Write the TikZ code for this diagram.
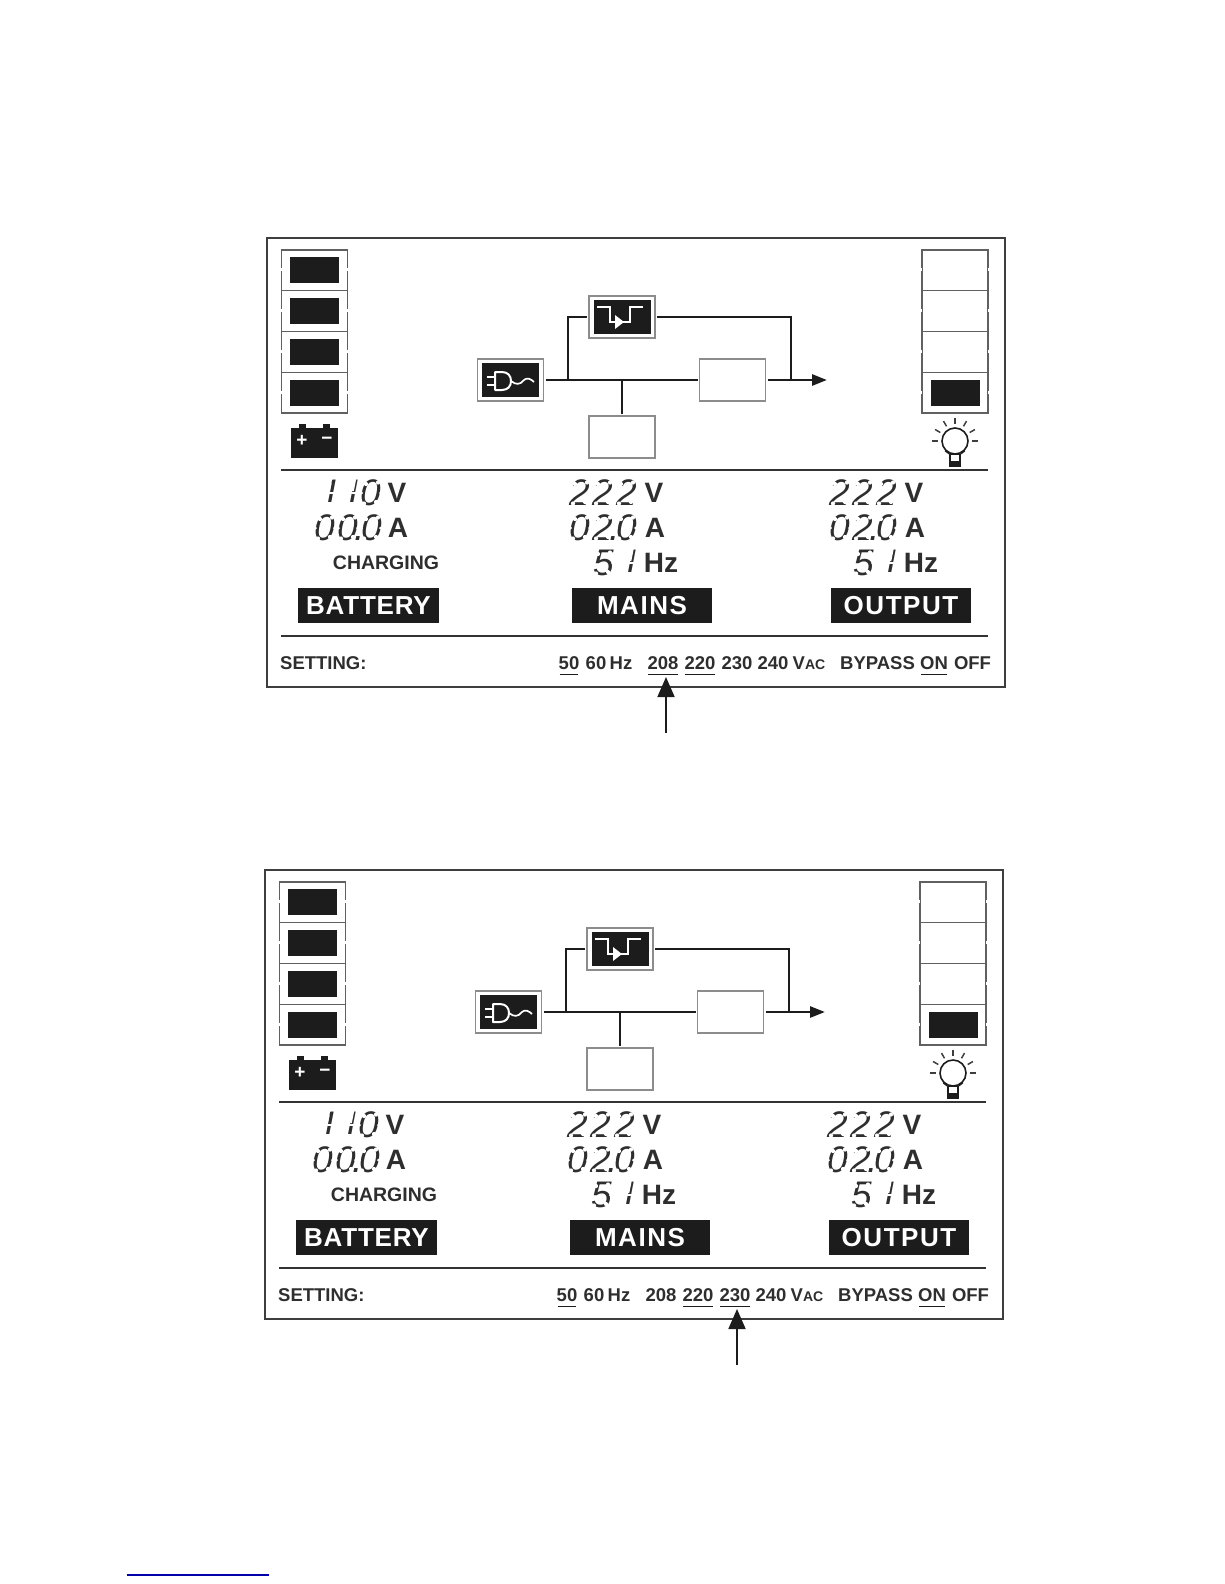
\documentclass[tikz,border=0pt]{standalone}
\usepackage{fontspec}
\setmainfont{Liberation Sans}
\newfontfamily\lcdfont[LetterSpace=8.3]{Liberation Sans}
\newfontfamily\tagfont[LetterSpace=3]{Liberation Sans}
\newfontfamily\widefont[LetterSpace=6]{Liberation Sans}
\usepackage{tikz}
\usetikzlibrary{arrows.meta,positioning,calc}
\definecolor{ink}{HTML}{1C1C1C}
\definecolor{txt}{HTML}{2E2E2E}

\begin{document}
\begin{tikzpicture}[
  x=1pt, y=-1pt,
  frame/.style = {draw=ink!85, line width=1.6pt},
  rule/.style  = {draw=ink!90, line width=1.3pt},
  cell/.style  = {draw=ink!70, line width=1.1pt, minimum width=66pt, minimum height=40.75pt,
                  inner sep=0pt},
  blk/.style   = {fill=ink, minimum width=49pt, minimum height=26pt, inner sep=0pt},
  box/.style   = {draw=black!45, line width=1.5pt, fill=#1, minimum width=66pt,
                  minimum height=42pt, inner sep=0pt, outer sep=2pt},
  box/.default = white,
  core/.style  = {fill=ink, minimum width=57pt, minimum height=34pt, inner sep=0pt},
  wire/.style  = {draw=ink, line width=2.7pt},
  arr/.style   = {-{Stealth[inset=0pt,length=15pt,width=11pt]}},
  lcd/.style   = {text=txt, inner sep=0pt, font=\fontsize{37}{37}\lcdfont\itshape},
  unit/.style  = {text=txt, inner sep=0pt, font=\fontsize{28}{28}\selectfont\bfseries},
  tag/.style   = {fill=ink, text=white, minimum height=35pt, inner sep=0pt,
                  font=\fontsize{26}{26}\selectfont\bfseries},
  set/.style   = {text=txt, inner sep=0pt, text height=14pt, text depth=0pt,
                  font=\fontsize{18.5}{18.5}\selectfont\bfseries},
  ulin/.style  = {draw=ink, line width=1.4pt},
  ray/.style   = {draw=ink!85, line width=1.5pt},
]

\useasboundingbox (0,0) rectangle (1224,1584);

\foreach \pre/\sx/\sy/\picks/\arrx in {a/0/0/{v50,v208,v220,von}/666, b/-2/632/{v50,v220,v230,von}/739}{
\begin{scope}[shift={(\sx,\sy)}]

%% ── PANEL ───────────────────────────────────────────────────────────────
\node[frame, minimum width=738pt, minimum height=449pt, inner sep=0pt] (\pre panel) at (636,462.5) {};
\coordinate (\pre r1w) at (281,470);
\coordinate (\pre r1e) at (988,470);
\coordinate (\pre r2w) at (281,636);
\coordinate (\pre r2e) at (988,636);
\draw[rule] (\pre r1w) -- (\pre r1e);
\draw[rule] (\pre r2w) -- (\pre r2e);

%% ── LEVEL BARS ──────────────────────────────────────────────────────────
\foreach \i in {1,2,3,4}{
  \node[cell] (\pre bat\i) at (314.5,{250+40.75*(\i-.5)}) {};
  \node[blk]  (\pre batf\i) at (\pre bat\i) {};
  \node[cell] (\pre load\i) at (955,{250+40.75*(\i-.5)}) {};
  \foreach \c in {bat,load}{
    \draw[white, line width=2pt] ($(\pre\c\i.west)+(0,-2)$) -- ($(\pre\c\i.west)+(0,1)$);
    \draw[white, line width=2pt] ($(\pre\c\i.east)+(0,-2)$) -- ($(\pre\c\i.east)+(0,1)$);
  }
}
\node[blk] (\pre loadf) at (\pre load4) {};

%% ── BATTERY ICON ────────────────────────────────────────────────────────
\node[fill=ink, minimum width=47pt, minimum height=30pt, inner sep=0pt] (\pre batt) at (314.5,443) {};
\node[fill=ink, minimum width=7pt, minimum height=5pt, inner sep=0pt, above=-1pt of \pre batt.north, xshift=-12pt] (\pre pos) {};
\node[fill=ink, minimum width=7pt, minimum height=5pt, inner sep=0pt, above=-1pt of \pre batt.north, xshift=12pt] (\pre neg) {};
\node[text=white, inner sep=0pt, font=\fontsize{19}{19}\selectfont\bfseries] (\pre plus) at (302,441) {+};
\node[text=white, inner sep=0pt, font=\fontsize{19}{19}\selectfont\bfseries] (\pre minus) at (327,441) {−};

%% ── BULB ICON ───────────────────────────────────────────────────────────
\node[draw=ink, line width=1.6pt, circle, minimum size=26pt, inner sep=0pt] (\pre bulb) at (955,441) {};
\foreach \a/\ri/\ro in {0/17/23,30/17/23,60/17/23,90/17/23,120/17/23,150/17/23,180/17/23}{
  \draw[ray] ($(\pre bulb)+({\ri*cos(\a)},{-\ri*sin(\a)})$) -- ($(\pre bulb)+({\ro*cos(\a)},{-\ro*sin(\a)})$);
}
\node[draw=ink, line width=1.5pt, minimum width=10pt, minimum height=7pt, inner sep=0pt] (\pre neck) at (955,458) {};
\node[fill=ink, minimum width=12pt, minimum height=5pt, inner sep=0pt] (\pre foot) at (955,464) {};
\draw[draw=ink, line width=1.5pt] (\pre bulb.south west) -- (\pre neck.north west);
\draw[draw=ink, line width=1.5pt] (\pre bulb.south east) -- (\pre neck.north east);

%% ── FLOW BOXES ──────────────────────────────────────────────────────────
\node[box=white] (\pre plug) at (510.5,380) {};
\node[core] (\pre plugf) at (\pre plug) {};
\node[box=white] (\pre byp) at (622,317) {};
\node[core] (\pre bypf) at (\pre byp) {};
\node[box] (\pre inv) at (732.5,380) {};
\node[box] (\pre rect) at (622,437) {};

%% plug glyph
\draw[white, line width=2pt, line join=round] (495,372) -- (502,372) .. controls (508,372) and (511,376) .. (511,381)
  .. controls (511,386) and (508,390) .. (502,390) -- (495,390) -- cycle;
\draw[white, line width=2pt] (487,377) -- (495,377);
\draw[white, line width=2pt] (487,385) -- (495,385);
\draw[white, line width=1.7pt] (511,381) .. controls (516,385) and (520,385) .. (524,380) .. controls (527,377) and (531,379) .. (534,382);

%% bypass glyph
\draw[white, line width=2pt] (597,307) -- (610,307) -- (610,322) -- (630,322) -- (630,307) -- (643,307);
\fill[white] (615,315) -- (624,322) -- (615,329) -- cycle;

%% ── MAIN FLOW ───────────────────────────────────────────────────────────
\coordinate (\pre jun1) at (568,380);
\coordinate (\pre jun2) at (622,380);
\coordinate (\pre jun3) at (791,380);
\coordinate (\pre out)  at (827,380);
\draw[wire] (\pre plug.east) -- (\pre inv.west);
\draw[wire] (\pre jun1) |- (\pre byp.west);
\draw[wire] (\pre byp.east) -| (\pre jun3);
\draw[wire] (\pre jun2) -- (\pre rect.north);
\draw[wire, arr] (\pre inv.east) -- (\pre out);

%% ── READINGS ────────────────────────────────────────────────────────────
\node[lcd, anchor=east] (\pre bv) at (381,493) {1\kern2pt 1\kern-3pt 0};
\node[lcd] (\pre ba) at (348,528) {00\rlap{\kern-4pt.}\kern3pt 0};
\node[lcd] (\pre mv) at (603,493) {222};
\node[lcd] (\pre ma) at (603,528) {02\rlap{\kern-4pt.}\kern3pt 0};
\node[lcd] (\pre mf) at (617.1,563) {5\kern7pt 1};
\node[lcd] (\pre ov) at (863,493) {222};
\node[lcd] (\pre oa) at (863,528) {02\rlap{\kern-4pt.}\kern3pt 0};
\node[lcd] (\pre of) at (877.1,563) {5\kern7pt 1};

%% segment breaks
\foreach \cx/\cy in {371/493,325/528,348/528,371/528,580/493,603/493,626/493,580/528,603/528,626/528,603/563,
                     840/493,863/493,886/493,840/528,863/528,886/528,863/563}{
  \foreach \a/\b in {7/-10.5,-5/-9,5/9,-7/10.5}{
    \fill[white] ({\cx+\a},{\cy+\b}) circle (2.1);
  }
  \foreach \a in {-9.5,9.5}{
    \fill[white] ({\cx+\a},\cy) circle (1.5);
  }
}
\foreach \cx/\cy in {331/493,355/493,632.5/563,892.5/563}{
  \fill[white] ({\cx-13},{\cy+8.5}) rectangle ({\cx+6.5},{\cy+14});
  \fill[white] ({\cx-12},{\cy-14}) -- ({\cx+1.2},{\cy-14}) -- ({\cx-1.2},{\cy-2}) -- ({\cx-12},{\cy-2}) -- cycle;
  \fill[white] ({\cx-5},{\cy-1.2}) rectangle ({\cx+5},{\cy+1.2});
}

\node[unit] (\pre vb) at (397,493) {V};
\node[unit] (\pre ab) at (398,528) {A};
\node[unit] (\pre vm) at (654,493) {V};
\node[unit] (\pre am) at (655,528) {A};
\node[unit] (\pre hm) at (661,563) {Hz};
\node[unit] (\pre vo) at (914,493) {V};
\node[unit] (\pre ao) at (915,528) {A};
\node[unit] (\pre ho) at (921,563) {Hz};
\node[text=txt, inner sep=0pt, font=\fontsize{19.5}{19.5}\selectfont\bfseries] (\pre chg) at (386,563) {CHARGING};

%% ── TAGS ────────────────────────────────────────────────────────────────
\node[tag, minimum width=141pt] (\pre tbat) at (368.5,605.5) {\tagfont BATTERY};
\node[tag, minimum width=140pt] (\pre tmai) at (642,605.5) {\widefont MAINS};
\node[tag, minimum width=140pt] (\pre tout) at (901,605.5) {\widefont OUTPUT};

%% ── SETTING ROW ─────────────────────────────────────────────────────────
\node[set, anchor=west] (\pre vset) at (280,662) {SETTING:};
\foreach \n/\x/\t in {v50/569/50, v60/596/60, vhz/621/Hz, v208/663/208, v220/700/220, v230/737/230,
                      v240/773/240, byp/877.5/BYPASS, von/934/ON, off/972.5/OFF}{
  \node[set] (\pre\n) at (\x,662) {\t};
}
\node[set] (\pre vac) at (809,662) {V{\fontsize{14}{14}\selectfont AC}};

\foreach \t in \picks{
  \draw[ulin] ($(\pre\t.south west)+(1,5)$) -- ($(\pre\t.south east)+(-1,5)$);
}

%% ── POINTER ─────────────────────────────────────────────────────────────
\coordinate (\pre tail) at (\arrx,733);
\coordinate (\pre tip)  at (\arrx,677);
\draw[draw=ink, line width=1.8pt, -{Stealth[inset=0pt,length=20pt,width=17pt]}] (\pre tail) -- (\pre tip);

\end{scope}
}

%% ── FOOT RULE ───────────────────────────────────────────────────────────
\coordinate (footw) at (127,1575);
\coordinate (foote) at (269,1575);
\draw[draw={rgb,255:red,0;green,0;blue,170}, line width=1.2pt] (footw) -- (foote);

\end{tikzpicture}
\end{document}
